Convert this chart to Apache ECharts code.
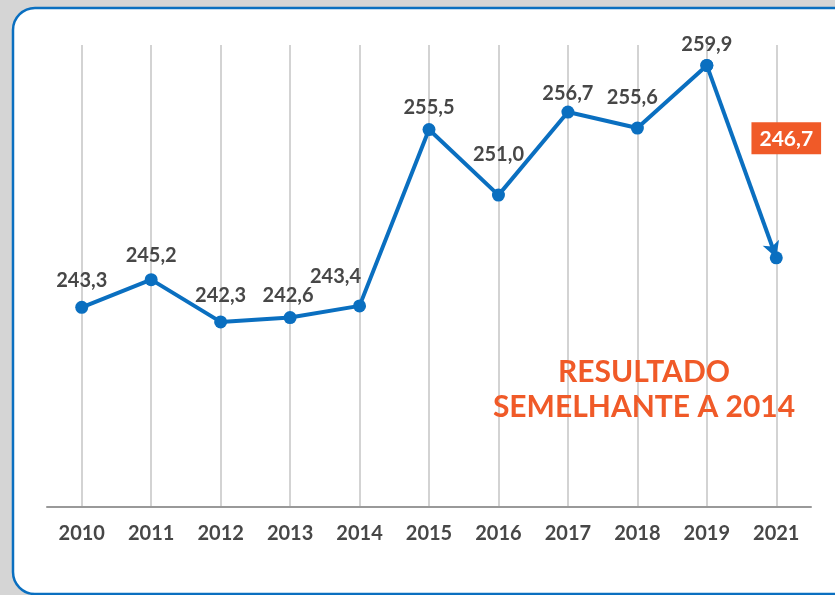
<!DOCTYPE html>
<html>
<head>
<meta charset="utf-8">
<script src="https://cdn.jsdelivr.net/npm/echarts@6/dist/echarts.min.js"></script>
<style>
html,body{margin:0;padding:0;background:#d5d5d5;}
#chart{width:835px;height:595px;}
</style>
</head>
<body>
<div id="chart"></div>
<script>
const categories = ['2010','2011','2012','2013','2014','2015','2016','2017','2018','2019','2021'];
const values = [243.3, 245.2, 242.3, 242.6, 243.4, 255.5, 251.0, 256.7, 255.6, 259.9, 246.7];
const labelOffsets = [[0,-5],[0,-3],[0,-5],[-2,0],[-24,-8],[0,0],[0,-19],[0,3],[-5,-9],[0,1],[10,-92]];
const noteLines = ['RESULTADO', 'SEMELHANTE A 2014'];

const blue = '#0a6fc0';
const orange = '#f05a28';
const textGray = '#474747';
const fmt = v => v.toFixed(1).replace('.', ',');

const last = values.length - 1;
const mainData = values.map((v, i) => {
  if (i === last) return null;
  return {
    value: v,
    label: { show: true, offset: labelOffsets[i] }
  };
});
const tailData = values.map((v, i) => (i >= last - 1 ? v : null));

const chart = echarts.init(document.getElementById('chart'));
chart.setOption({
  backgroundColor: 'transparent',
  animation: false,
  graphic: [
    {
      type: 'rect', z: -10, silent: true,
      shape: { x: 13, y: 8, width: 860, height: 586, r: 22 },
      style: { fill: '#ffffff', stroke: blue, lineWidth: 2.5 }
    },
    {
      type: 'text', z: 10,
      style: {
        text: noteLines.join('\n'), x: 644, y: 390,
        align: 'center', verticalAlign: 'middle',
        fill: orange, font: 'bold 30px Lato', lineHeight: 35
      }
    }
  ],
  grid: { left: 47, right: 24, top: 45, bottom: 88, containLabel: false },
  xAxis: {
    type: 'category',
    data: categories,
    boundaryGap: true,
    axisLine: { show: true, lineStyle: { color: '#999999', width: 2 } },
    axisTick: { show: false },
    axisLabel: { color: textGray, fontFamily: 'Lato', fontWeight: 'bold', fontSize: 20, margin: 17 },
    splitLine: { show: true, alignWithLabel: true, lineStyle: { color: '#c4c4c4', width: 1.5 } }
  },
  yAxis: {
    type: 'value', min: 229.6, max: 261.3,
    show: false, splitLine: { show: false }
  },
  series: [
    {
      type: 'line', data: mainData, connectNulls: false,
      symbol: 'circle', symbolSize: 13,
      lineStyle: { color: blue, width: 4 },
      itemStyle: { color: blue },
      label: {
        show: true, position: 'top', distance: 5,
        color: textGray, fontFamily: 'Lato', fontWeight: 'bold', fontSize: 20,
        formatter: p => fmt(p.value)
      },
      z: 3
    },
    {
      type: 'line', data: tailData,
      symbol: 'circle', symbolSize: 13, showSymbol: true,
      lineStyle: { width: 0, opacity: 0 },
      itemStyle: { color: blue },
      label: {
        show: true, position: 'top', distance: 5,
        color: '#ffffff', fontFamily: 'Lato', fontWeight: 'bold', fontSize: 21,
        backgroundColor: orange, padding: [6, 8, 5, 8],
        offset: labelOffsets[last],
        formatter: p => (p.dataIndex === last ? fmt(p.value) : '')
      },
      markLine: {
        silent: true, symbol: ['none', 'arrow'], symbolSize: [13, 16],
        lineStyle: { color: blue, width: 4, type: 'solid' },
        label: { show: false },
        data: [[
          { coord: [categories[last - 1], values[last - 1]] },
          { coord: [categories[last], values[last]] }
        ]]
      },
      z: 4
    }
  ]
});
</script>
</body>
</html>
